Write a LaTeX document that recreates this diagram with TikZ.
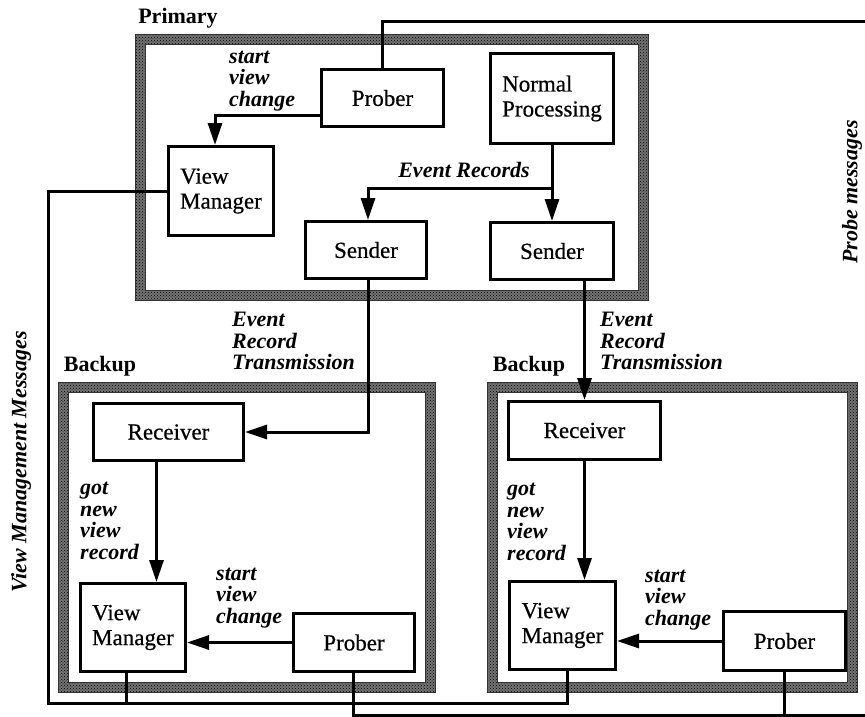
\documentclass[tikz,border=0pt]{standalone}
\usepackage{fontspec}
\setmainfont{Liberation Serif}
\newfontfamily\boxfont[FakeBold=0.6]{Liberation Serif}
\usetikzlibrary{arrows.meta,patterns}
\begin{document}
\begin{tikzpicture}[x=1pt,y=-1pt,
  box/.style={draw, line width=3pt, inner sep=0pt, align=left,
    font=\boxfont\fontsize{23}{25}\selectfont},
  wire/.style={line width=3pt},
  arr/.style={wire, -{Triangle[length=22pt,width=14pt]}},
  lbl/.style={font=\fontsize{22}{21.7}\selectfont\bfseries\itshape,
    align=left, inner sep=0pt},
  title/.style={font=\fontsize{22}{22}\selectfont\bfseries, inner sep=0pt},
  band/.style={even odd rule, fill=black!55,
    postaction={pattern=crosshatch dots, pattern color=black}},
  bandedge/.style={draw=black!80, line width=1pt},
]
\useasboundingbox (0,0) rectangle (865,717);

% ---- hatched site frames ----
\fill[band] (135,35) rectangle (648,300) (145,45) rectangle (638,290);
\draw[bandedge] (135,35) rectangle (648,300) (145,45) rectangle (638,290);
\fill[band] (58,382) rectangle (435,692) (68,392) rectangle (425,682);
\draw[bandedge] (58,382) rectangle (435,692) (68,392) rectangle (425,682);
\fill[band] (487,382) rectangle (857,692) (497,392) rectangle (847,682);
\draw[bandedge] (487,382) rectangle (857,692) (497,392) rectangle (847,682);

\node[title] (tPrim) at (178,18) {Primary};
\node[title] (tB1) at (100,366) {Backup};
\node[title] (tB2) at (529,366) {Backup};

% ---- primary site ----
\node[box, minimum width=122pt, minimum height=57pt] (pProber) at (382.5,98) {Prober};
\node[box, minimum width=123pt, minimum height=90pt] (pNormal) at (552,98.5) {Normal\\Processing};
\node[box, minimum width=105pt, minimum height=89pt] (pVM) at (221,191) {View\\Manager};
\node[box, minimum width=121pt, minimum height=57pt] (pSend1) at (366,250) {Sender};
\node[box, minimum width=123pt, minimum height=57pt] (pSend2) at (552,251) {Sender};

% ---- first backup site ----
\node[box, minimum width=150pt, minimum height=57pt] (b1Recv) at (168.5,432) {Receiver};
\node[box, minimum width=105pt, minimum height=88pt] (b1VM) at (133,627.5) {View\\Manager};
\node[box, minimum width=121pt, minimum height=58pt] (b1Prober) at (354,642.5) {Prober};

% ---- second backup site ----
\node[box, minimum width=152pt, minimum height=58pt] (b2Recv) at (584.5,430.5) {Receiver};
\node[box, minimum width=106pt, minimum height=88pt] (b2VM) at (562.5,625.5) {View\\Manager};
\node[box, minimum width=122pt, minimum height=59pt] (b2Prober) at (784.5,641) {Prober};

% ---- connectors inside the primary ----
\draw[arr] ([yshift=-17pt]pProber.west) -| ([xshift=-6pt]pVM.north);
\draw[arr] (pNormal.south) -- (pSend2.north);
\draw[arr] (pNormal.south |- 0,188) -| ([xshift=2pt]pSend1.north);

% ---- event record transmission ----
\draw[arr] ([xshift=2pt]pSend1.south) |- (b1Recv.east);
\draw[arr] (b2Recv.north |- pSend2.south) -- (b2Recv.north);

% ---- connectors inside the backups ----
\draw[arr] ([xshift=-12pt]b1Recv.south) -- ([xshift=-12pt]b1Recv.south |- b1VM.north);
\draw[arr] (b1Prober.west) -- (b1Prober.west -| b1VM.east);
\draw[arr] (b2Recv.south) -- (b2Recv.south |- b2VM.north);
\draw[arr] (b2Prober.west) -- (b2Prober.west -| b2VM.east);

% ---- view management message bus ----
\coordinate (vmTurn) at (48,703);
\draw[wire] (pVM.west) -| (vmTurn) -| ([xshift=5pt]b2VM.south);
\draw[wire] ([xshift=-7pt]b1VM.south) -- ([xshift=-7pt]b1VM.south |- vmTurn);

% ---- probe message bus ----
\coordinate (probeTop) at (866,22);
\coordinate (probeBot) at (866,715);
\draw[wire] (pProber.north) |- (probeTop);
\draw[wire] ([xshift=-1pt]b1Prober.south) |- (probeBot);
\draw[wire] (b2Prober.south) -- (b2Prober.south |- probeBot);

% ---- labels ----
\node[lbl, anchor=west] (lPsv) at (229,81) {start\\view\\change};
\node[lbl] (lEvR) at (464,170) {Event Records};
\node[lbl, anchor=west] (lErt1) at (232,341) {Event\\Record\\Transmission};
\node[lbl, anchor=west] (lErt2) at (600,341) {Event\\Record\\Transmission};
\node[lbl, anchor=west] (lGot1) at (80,521) {got\\new\\view\\record};
\node[lbl, anchor=west] (lGot2) at (507,522) {got\\new\\view\\record};
\node[lbl, anchor=west] (lSv1) at (216,598) {start\\view\\change};
\node[lbl, anchor=west] (lSv2) at (645,600) {start\\view\\change};
\node[lbl, rotate=90] (lVmm) at (21,462) {View Management Messages};
\node[lbl, rotate=90] (lProbe) at (852,192) {Probe messages};
\end{tikzpicture}
\end{document}
